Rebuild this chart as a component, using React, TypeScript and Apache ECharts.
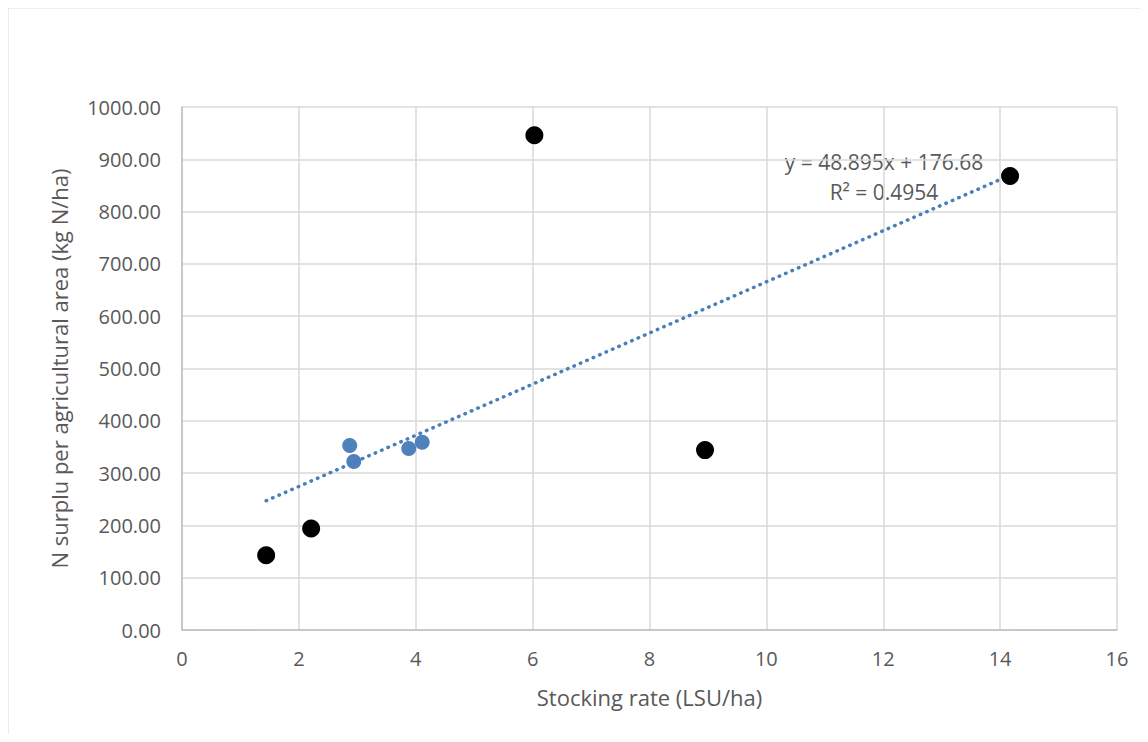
import React, { useEffect, useRef } from "react";
import * as echarts from "echarts";

const blackPoints: [number, number][] = [
  [1.44, 143],
  [2.21, 194],
  [6.03, 946],
  [8.95, 344],
  [14.17, 868],
];
const bluePoints: [number, number][] = [
  [2.87, 353],
  [2.94, 322],
  [3.88, 347],
  [4.11, 359],
];
const slope = 48.895;
const intercept = 176.68;
const trendLabel = "y = 48.895x + 176.68";
const r2Label = "R² = 0.4954";
const xTitle = "Stocking rate (LSU/ha)";
const yTitle = "N surplu per agricultural area (kg N/ha)";

export default function App() {
  const ref = useRef<HTMLDivElement>(null);
  useEffect(() => {
    if (!ref.current) return;
    const chart = echarts.init(ref.current, undefined, { renderer: "svg" });
    const allX = [...blackPoints, ...bluePoints].map((p) => p[0]);
    const x0 = Math.min(...allX);
    const x1 = Math.max(...allX);
    const trend = [
      [x0, slope * x0 + intercept],
      [x1, slope * x1 + intercept],
    ];
    const font = "'Open Sans', 'Noto Sans', sans-serif";
    const grey = "#595959";
    chart.setOption({
      animation: false,
      backgroundColor: "#fff",
      grid: { left: 182, right: 31, top: 107, bottom: 112 },
      xAxis: {
        type: "value",
        min: 0,
        max: 16,
        interval: 2,
        name: xTitle,
        nameLocation: "middle",
        nameGap: 56,
        nameTextStyle: { color: grey, fontSize: 22, fontFamily: font },
        axisLine: { show: true, lineStyle: { color: "#bfbfbf", width: 1.5 } },
        axisTick: { show: false },
        axisLabel: { color: grey, fontSize: 20, fontFamily: font, margin: 18 },
        splitLine: { show: true, lineStyle: { color: "#d9d9d9", width: 1.5 } },
      },
      yAxis: {
        type: "value",
        min: 0,
        max: 1000,
        interval: 100,
        name: yTitle,
        nameLocation: "middle",
        nameGap: 112,
        nameTextStyle: { color: grey, fontSize: 22, fontFamily: font },
        axisLine: { show: true, lineStyle: { color: "#bfbfbf", width: 1.5 } },
        axisTick: { show: false },
        axisLabel: {
          color: grey,
          fontSize: 20,
          fontFamily: font,
          margin: 21,
          formatter: (v: number) => v.toFixed(2),
        },
        splitLine: { show: true, lineStyle: { color: "#d9d9d9", width: 1.5 } },
      },
      graphic: [
        {
          type: "line",
          shape: { x1: 7.5, y1: 7.5, x2: 1148, y2: 7.5 },
          style: { stroke: "#d9d9d9", lineWidth: 2 },
          silent: true,
        },
        {
          type: "line",
          shape: { x1: 7.5, y1: 7.5, x2: 7.5, y2: 742 },
          style: { stroke: "#d9d9d9", lineWidth: 2 },
          silent: true,
        },
        {
          type: "text",
          x: 884,
          y: 162,
          style: {
            text: trendLabel,
            fill: grey,
            font: `21px ${font}`,
            textAlign: "center",
            textVerticalAlign: "middle",
          },
        },
        {
          type: "text",
          x: 884,
          y: 192,
          style: {
            text: r2Label,
            fill: grey,
            font: `21px ${font}`,
            textAlign: "center",
            textVerticalAlign: "middle",
          },
        },
      ],
      series: [
        {
          type: "scatter",
          data: bluePoints,
          symbolSize: 15,
          itemStyle: { color: "#4f81bd", opacity: 1 },
          z: 2,
        },
        {
          type: "line",
          data: trend,
          symbol: "none",
          lineStyle: { color: "#4a7ebb", width: 3.5, type: [0.5, 6.5], cap: "round" },
          z: 3,
        },
        {
          type: "scatter",
          data: blackPoints,
          symbolSize: 18,
          itemStyle: { color: "#000", opacity: 1 },
          z: 4,
        },
      ],
    });
    return () => chart.dispose();
  }, []);
  return <div ref={ref} style={{ width: 1148, height: 742, margin: -8 }} />;
}
